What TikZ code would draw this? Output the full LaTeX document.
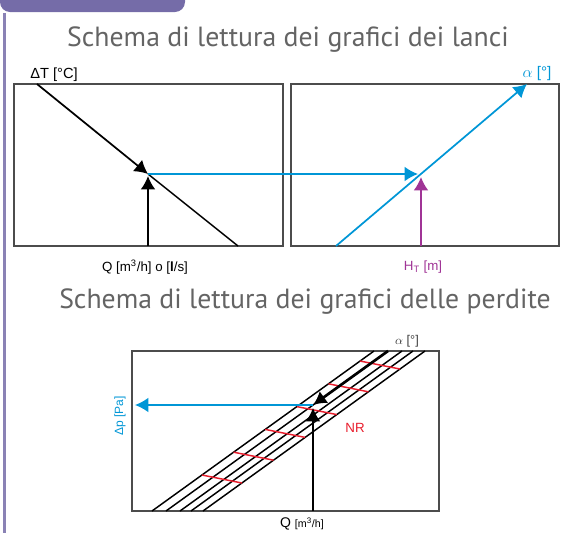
\documentclass[tikz,border=0pt]{standalone}
\usepackage{fontspec}
\setmainfont{Liberation Sans}
\newfontfamily\titlefont{PT Sans}
\usetikzlibrary{arrows.meta, positioning, calc}
\definecolor{bandviolet}{RGB}{117,108,168}
\definecolor{lineblue}{RGB}{0,150,214}
\definecolor{hmagenta}{RGB}{160,52,150}
\definecolor{nrred}{RGB}{232,30,45}
\definecolor{titlegray}{RGB}{100,100,100}

\begin{document}
\begin{tikzpicture}[x=0.75pt, y=-0.75pt,
  frame/.style={draw=black!70, line width=1pt},
  curve/.style={line width=1.1pt},
  arr/.style={-{Latex[length=10pt,width=11pt]}, line width=1.3pt},
  title/.style={font=\titlefont\fontsize{20.8}{22}\selectfont, text=titlegray},
  lbl/.style={font=\fontsize{10}{11}\selectfont, inner sep=1pt}
]
\useasboundingbox (0,0) rectangle (561,533);

\fill[bandviolet, rounded corners=7.5pt] (0,-20) rectangle (185,12);
\draw[bandviolet!85, line width=2.2pt] (4.2,13) -- (4.2,533);

\node[title] (t1) at (288,40) {Schema di lettura dei grafici dei lanci};
\node[title] (t2) at (305,302) {Schema di lettura dei grafici delle perdite};

% lanci
\draw[frame] (14,84) rectangle (283,246);
\draw[frame] (291,84) rectangle (559,246);

\coordinate (dtTop) at (37,84);
\coordinate (dtBot) at (238,246);
\coordinate (dtX) at (148,174);
\coordinate (qBot) at (148,246);
\coordinate (qTip) at (148,176);
\coordinate (aBot) at (336,246);
\coordinate (aTop) at (527,84);
\coordinate (aX) at (421,174);
\coordinate (aIn) at (418,174);
\coordinate (hBot) at (421,246);
\coordinate (hTip) at (421,177);

\draw[curve] (dtX) -- (dtBot);
\draw[arr] (dtTop) -- (dtX);
\draw[arr] (qBot) -- (qTip);
\draw[arr, lineblue] (dtX) -- (aIn);
\draw[arr, lineblue] (aBot) -- (aTop);
\draw[arr, hmagenta] (hBot) -- (hTip);

\node[lbl, font=\fontsize{11}{12}\selectfont] (dtLbl) at (54,75) {ΔT [°C]};
\node[lbl, text=lineblue, font=\fontsize{11.5}{12}\selectfont] (aLbl) at (537,74) {$\alpha$ [°]};
\node[lbl] (qLbl) at (145,267) {Q [m\textsuperscript{3}/h] o [\textbf{l}/s]};
\node[lbl, text=hmagenta] (hLbl) at (423,267) {H\textsubscript{T} [m]};

% perdite
\draw[frame] (132,351) rectangle (439,511);

\foreach \xb in {152,166,180,191,203}
  \draw[curve] (\xb,511) -- ++(222,-160);

\foreach \i in {0,...,5}
  \draw[nrred, line width=1.1pt] ($(152,511)+(31.6*\i,-22.8*\i)+(50,-36)$) -- ++(40,8);

\coordinate (pTop) at (388,351);
\coordinate (pX) at (313,405);
\coordinate (pBot) at (313,511);
\coordinate (pTip) at (313,408);
\coordinate (pOut) at (135,405);

\draw[arr, line width=2pt] (pTop) -- (pX);
\draw[arr, line width=1.1pt] (pBot) -- (pTip);
\draw[arr, lineblue, line width=1.1pt] (pX) -- (pOut);

\node[lbl, text=nrred, font=\fontsize{10}{11}\selectfont] (nrLbl) at (355,428) {NR};
\node[lbl, text=black!75, font=\fontsize{9.5}{10}\selectfont] (a2Lbl) at (407,341) {$\alpha$ [°]};
\node[lbl, text=lineblue, rotate=90, font=\fontsize{9}{10}\selectfont] (dpLbl) at (120,416) {Δp [Pa]};
\node[lbl] (q2Lbl) at (302,524) {\fontsize{10.5}{11}\selectfont Q {\fontsize{8}{9}\selectfont[m\textsuperscript{3}/h]}};
\end{tikzpicture}
\end{document}
